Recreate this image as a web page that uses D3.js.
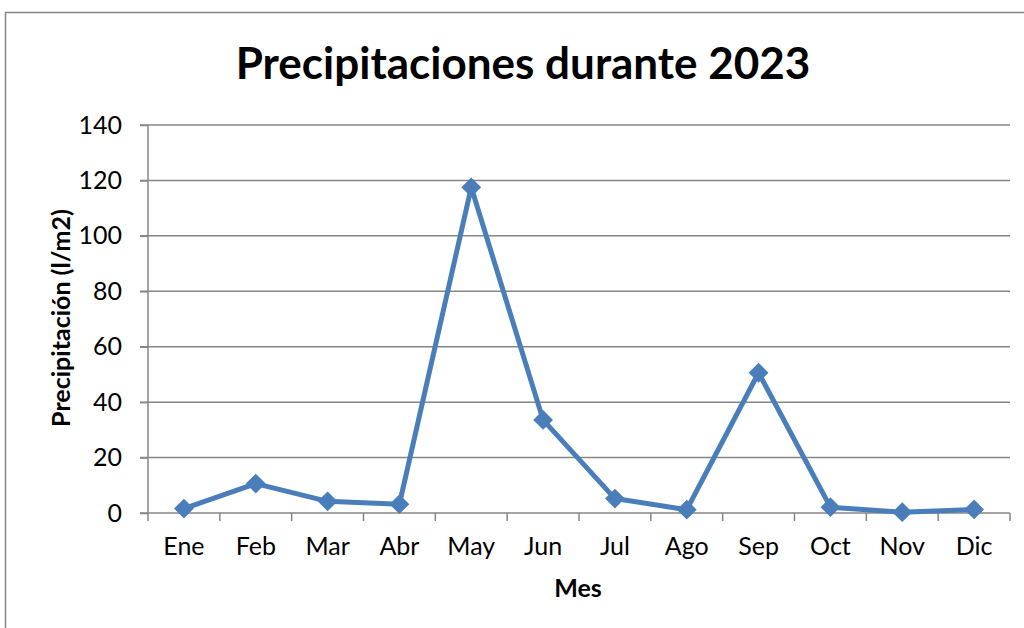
<!DOCTYPE html>
<html lang="es">
<head>
<meta charset="UTF-8">
<title>Precipitaciones</title>
<script src="https://d3js.org/d3.v7.min.js"></script>
<style>
  body { margin: 0; background: #fff; }
  text { font-family: "Lato", "Open Sans", sans-serif; fill: #000; }
</style>
</head>
<body>
<svg width="1024" height="628"></svg>
<script>
// datos
var meses = ["Ene", "Feb", "Mar", "Abr", "May", "Jun", "Jul", "Ago", "Sep", "Oct", "Nov", "Dic"];
var lluvia = [1.6, 10.6, 4.2, 3.2, 117.5, 33.6, 5.2, 1.2, 50.6, 2.1, 0.3, 1.3];
var yTicks = [0, 20, 40, 60, 80, 100, 120, 140];

var svg = d3.select("svg");
var izq = 148, der = 1010, arriba = 125, abajo = 513;
var gris = "#868686";
var azul = "#4a7ebb";

// borde del grafico
svg.append("rect")
  .attr("x", 5.5).attr("y", 12.5)
  .attr("width", 1040).attr("height", 640)
  .attr("fill", "none").attr("stroke", gris).attr("stroke-width", 1.5);

var x = d3.scaleBand().domain(meses).range([izq, der]);
var y = d3.scaleLinear().domain([0, 140]).range([abajo, arriba]);

// lineas de division
svg.append("g").selectAll("line")
  .data(yTicks.filter(d => d > 0))
  .join("line")
  .attr("x1", izq - 8).attr("x2", der)
  .attr("y1", d => y(d)).attr("y2", d => y(d))
  .attr("stroke", gris).attr("stroke-width", 1.5);

// eje y
var gy = svg.append("g")
  .attr("transform", "translate(" + izq + ",0)")
  .call(d3.axisLeft(y).tickValues(yTicks).tickSize(8).tickPadding(18));
gy.select(".domain").attr("stroke", gris).attr("stroke-width", 1.5).attr("d", "M0," + arriba + "V" + abajo);
gy.selectAll(".tick line").attr("stroke", gris).attr("stroke-width", 1.5);
gy.selectAll(".tick text").attr("font-size", 25).attr("font-family", "Lato, sans-serif");

// eje x
var gx = svg.append("g")
  .attr("transform", "translate(0," + abajo + ")")
  .call(d3.axisBottom(x).tickSize(0).tickPadding(24));
gx.select(".domain").attr("stroke", gris).attr("stroke-width", 1.5).attr("d", "M" + (izq - 8) + ",0H" + der);
gx.selectAll(".tick text").attr("font-size", 25).attr("font-family", "Lato, sans-serif");

// marcas entre categorias
svg.append("g").selectAll("line")
  .data(d3.range(meses.length + 1))
  .join("line")
  .attr("x1", i => izq + i * x.step()).attr("x2", i => izq + i * x.step())
  .attr("y1", abajo).attr("y2", abajo + 8)
  .attr("stroke", gris).attr("stroke-width", 1.5);

// serie
var cx = (d, i) => x(meses[i]) + x.bandwidth() / 2;
svg.append("path")
  .datum(lluvia)
  .attr("fill", "none")
  .attr("stroke", azul)
  .attr("stroke-width", 5)
  .attr("stroke-linejoin", "round")
  .attr("d", d3.line().x(cx).y(d => y(d)));

svg.append("g").selectAll("path")
  .data(lluvia)
  .join("path")
  .attr("transform", (d, i) => "translate(" + cx(d, i) + "," + y(d) + ")")
  .attr("d", d3.symbol().type(d3.symbolDiamond2).size(250))
  .attr("fill", azul);

// titulos
svg.append("text")
  .attr("x", 523).attr("y", 79)
  .attr("text-anchor", "middle")
  .attr("font-size", 44).attr("font-weight", "bold")
  .text("Precipitaciones durante 2023");

svg.append("text")
  .attr("transform", "translate(70,318) rotate(-90)")
  .attr("text-anchor", "middle")
  .attr("font-size", 25).attr("font-weight", "bold")
  .text("Precipitación (l/m2)");

svg.append("text")
  .attr("x", 578).attr("y", 597)
  .attr("text-anchor", "middle")
  .attr("font-size", 25).attr("font-weight", "bold")
  .text("Mes");
</script>
</body>
</html>
